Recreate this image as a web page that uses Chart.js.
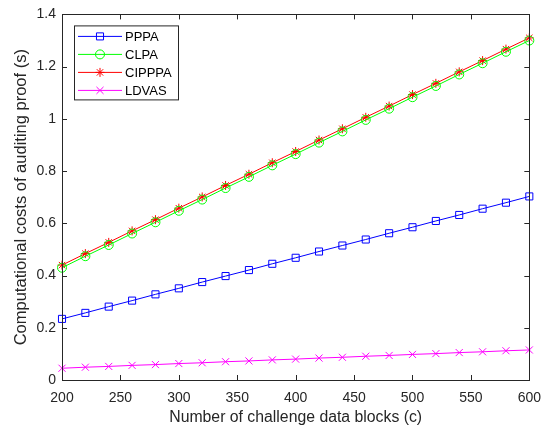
<!DOCTYPE html>
<html>
<head>
<meta charset="utf-8">
<script src="https://cdn.jsdelivr.net/npm/chart.js@4"></script>
<style>
  html, body { margin: 0; padding: 0; background: #fff; }
  #wrap { width: 551px; height: 428px; }
</style>
</head>
<body>
<div id="wrap"><canvas id="chart"></canvas></div>
<script>
// number of challenge data blocks
const blocks = [200, 220, 240, 260, 280, 300, 320, 340, 360, 380, 400,
                420, 440, 460, 480, 500, 520, 540, 560, 580, 600];

// costs (s)
const pppa = [0.234, 0.257, 0.281, 0.304, 0.328, 0.351, 0.375, 0.398, 0.421, 0.445, 0.468,
              0.492, 0.515, 0.538, 0.562, 0.585, 0.609, 0.632, 0.656, 0.679, 0.703];
const clpa = [0.430, 0.474, 0.517, 0.561, 0.604, 0.648, 0.691, 0.735, 0.778, 0.822, 0.865,
              0.909, 0.952, 0.996, 1.039, 1.083, 1.126, 1.170, 1.213, 1.257, 1.300];
const cipppa = [0.440, 0.484, 0.527, 0.571, 0.614, 0.658, 0.701, 0.745, 0.788, 0.832, 0.875,
                0.919, 0.962, 1.006, 1.049, 1.093, 1.136, 1.180, 1.223, 1.267, 1.310];
const ldvas = [0.045, 0.049, 0.052, 0.056, 0.059, 0.063, 0.066, 0.070, 0.073, 0.077, 0.080,
               0.084, 0.087, 0.091, 0.094, 0.098, 0.101, 0.105, 0.108, 0.112, 0.115];

const seriesNames = ['PPPA', 'CLPA', 'CIPPPA', 'LDVAS'];
const seriesColors = ['#0000ff', '#00ff00', '#ff0000', '#ff00ff'];
const seriesMarkers = ['rect', 'circle', 'star', 'crossRot'];
const markerSizes = [5, 4.5, 4.5, 5];

const xTicks = [200, 250, 300, 350, 400, 450, 500, 550, 600];
const yTicks = [0, 0.2, 0.4, 0.6, 0.8, 1, 1.2, 1.4];

const FONT = '"Liberation Sans", Arial, Helvetica, sans-serif';
const INK = '#262626';

function makeDataset(i, values) {
    return {
        label: seriesNames[i],
        data: blocks.map((b, k) => ({ x: b, y: values[k] })),
        borderColor: seriesColors[i],
        backgroundColor: 'rgba(0,0,0,0)',
        borderWidth: 1,
        pointStyle: seriesMarkers[i],
        pointRadius: markerSizes[i],
        pointBorderWidth: 1,
        pointBorderColor: seriesColors[i],
        pointBackgroundColor: 'rgba(0,0,0,0)',
        tension: 0,
        clip: false
    };
}

// box around the plot and ticks pointing inward, like matlab
const boxTicks = {
    id: 'boxTicks',
    afterDraw(chart) {
        const { ctx, chartArea: a, scales } = chart;
        ctx.save();
        ctx.strokeStyle = INK;
        ctx.lineWidth = 1;
        ctx.strokeRect(Math.round(a.left) + 0.5, Math.round(a.top) + 0.5,
                       Math.round(a.right - a.left), Math.round(a.bottom - a.top));
        const len = 5;
        ctx.beginPath();
        xTicks.forEach(v => {
            const px = Math.round(scales.x.getPixelForValue(v)) + 0.5;
            ctx.moveTo(px, a.bottom); ctx.lineTo(px, a.bottom - len);
            ctx.moveTo(px, a.top); ctx.lineTo(px, a.top + len);
        });
        yTicks.forEach(v => {
            const py = Math.round(scales.y.getPixelForValue(v)) + 0.5;
            ctx.moveTo(a.left, py); ctx.lineTo(a.left + len, py);
            ctx.moveTo(a.right, py); ctx.lineTo(a.right - len, py);
        });
        ctx.stroke();
        ctx.restore();
    }
};

// legend with line + marker samples
const lineLegend = {
    id: 'lineLegend',
    afterDraw(chart) {
        const { ctx, chartArea: a } = chart;
        const x0 = a.left + 12, y0 = a.top + 11, w = 104, h = 74, rowH = 18;
        ctx.save();
        ctx.fillStyle = '#fff';
        ctx.fillRect(x0, y0, w, h);
        ctx.strokeStyle = INK;
        ctx.lineWidth = 1;
        ctx.strokeRect(x0 + 0.5, y0 + 0.5, w, h);
        ctx.font = '13px ' + FONT;
        ctx.textBaseline = 'middle';
        chart.data.datasets.forEach((ds, i) => {
            const cy = y0 + 11 + i * rowH;
            ctx.strokeStyle = ds.borderColor;
            ctx.beginPath();
            ctx.moveTo(x0 + 4, cy); ctx.lineTo(x0 + 48, cy);
            ctx.stroke();
            ctx.fillStyle = 'rgba(0,0,0,0)';
            Chart.helpers.drawPoint(ctx, {
                pointStyle: ds.pointStyle, radius: ds.pointRadius, borderWidth: 1, rotation: 0
            }, x0 + 26, cy);
            ctx.fillStyle = '#000';
            ctx.fillText(ds.label, x0 + 51, cy + 1);
        });
        ctx.restore();
    }
};

new Chart(document.getElementById('chart'), {
    type: 'line',
    data: {
        datasets: [
            makeDataset(0, pppa),
            makeDataset(1, clpa),
            makeDataset(2, cipppa),
            makeDataset(3, ldvas)
        ]
    },
    options: {
        responsive: true,
        maintainAspectRatio: false,
        animation: false,
        layout: { padding: { top: 10, right: 21, left: 0, bottom: 0 } },
        plugins: {
            legend: { display: false },
            tooltip: { enabled: false }
        },
        scales: {
            x: {
                type: 'linear',
                min: 200,
                max: 600,
                afterFit: s => { s.height = 48; },
                afterBuildTicks: s => { s.ticks = xTicks.map(v => ({ value: v })); },
                grid: { display: false, drawTicks: false },
                border: { display: false },
                ticks: { color: INK, font: { family: FONT, size: 14 }, padding: 10, maxRotation: 0 },
                title: {
                    display: true,
                    text: 'Number of challenge data blocks (c)',
                    color: INK,
                    font: { family: FONT, size: 15.8 },
                    padding: { top: 0, bottom: 1 }
                }
            },
            y: {
                min: 0,
                max: 1.4,
                afterFit: s => { s.width = 62; },
                afterBuildTicks: s => { s.ticks = yTicks.map(v => ({ value: v })); },
                grid: { display: false, drawTicks: false },
                border: { display: false },
                ticks: {
                    color: INK,
                    font: { family: FONT, size: 14 },
                    padding: 6,
                    callback: v => String(Number(v.toFixed(1)))
                },
                title: {
                    display: true,
                    text: 'Computational costs of auditing proof (s)',
                    color: INK,
                    font: { family: FONT, size: 16.5 },
                    padding: { top: 12, bottom: 0 }
                }
            }
        }
    },
    plugins: [boxTicks, lineLegend]
});
</script>
</body>
</html>
